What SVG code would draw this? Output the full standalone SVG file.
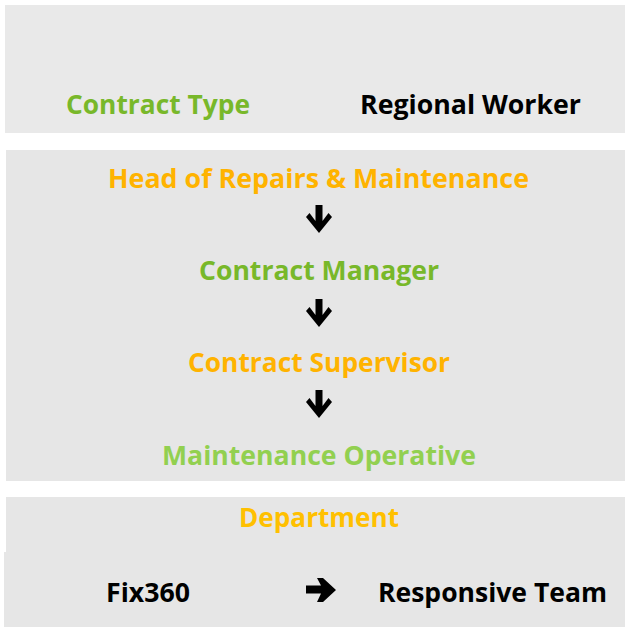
<svg xmlns="http://www.w3.org/2000/svg" width="625" height="627" viewBox="0 0 625 627">
<style>
text{font-family:"Open Sans","Noto Sans","Liberation Sans",sans-serif;font-weight:bold;font-size:27px}
.g1{fill:#78B82A}.g2{fill:#92D050}.o1{fill:#FFB300}.o2{fill:#FFC000}.k{fill:#000}
.panel{fill:#E6E6E6}
</style>
<rect id="panel-top" x="5" y="5" width="620" height="128" fill="#E9E9E9"/>
<rect id="panel-mid" class="panel" x="6" y="150" width="619" height="331"/>
<g id="panel-bottom">
<rect class="panel" x="6" y="497" width="619" height="56"/>
<rect class="panel" x="4" y="552" width="621" height="75"/>
</g>
<g id="contract-type"><text class="g1" x="66" y="114" textLength="184" lengthAdjust="spacingAndGlyphs">Contract Type</text></g>
<g id="regional-worker"><text class="k" x="360" y="114" textLength="221" lengthAdjust="spacingAndGlyphs">Regional Worker</text></g>
<g id="head"><text class="o1" x="108" y="188" textLength="421" lengthAdjust="spacingAndGlyphs">Head of Repairs &amp; Maintenance</text></g>
<g id="contract-manager"><text class="g1" x="199" y="280" textLength="240" lengthAdjust="spacingAndGlyphs">Contract Manager</text></g>
<g id="contract-supervisor"><text class="o1" x="188" y="372" textLength="262" lengthAdjust="spacingAndGlyphs">Contract Supervisor</text></g>
<g id="maintenance-operative"><text class="g2" x="162" y="465" textLength="314" lengthAdjust="spacingAndGlyphs">Maintenance Operative</text></g>
<g id="department"><text class="o2" x="239" y="527" textLength="160" lengthAdjust="spacingAndGlyphs">Department</text></g>
<g id="fix360"><text class="k" x="106" y="602" textLength="84" lengthAdjust="spacingAndGlyphs">Fix360</text></g>
<g id="responsive-team"><text class="k" x="378" y="602" textLength="229" lengthAdjust="spacingAndGlyphs">Responsive Team</text></g>
<defs>
<path id="down" d="M-3.5,0 H3.5 V16 L9.5,8 L13,12 L0,28 L-13,12 L-9.5,8 L-3.5,16 Z"/>
</defs>
<g id="connectors" fill="#000">
<use href="#down" x="319" y="205"/>
<use href="#down" x="319" y="299"/>
<use href="#down" x="319" y="390"/>
<path d="M306,585.5 H321 L317,578 H323 L336,590 L323,602 H317 L321,593.5 H306 Z"/>
</g>
</svg>
